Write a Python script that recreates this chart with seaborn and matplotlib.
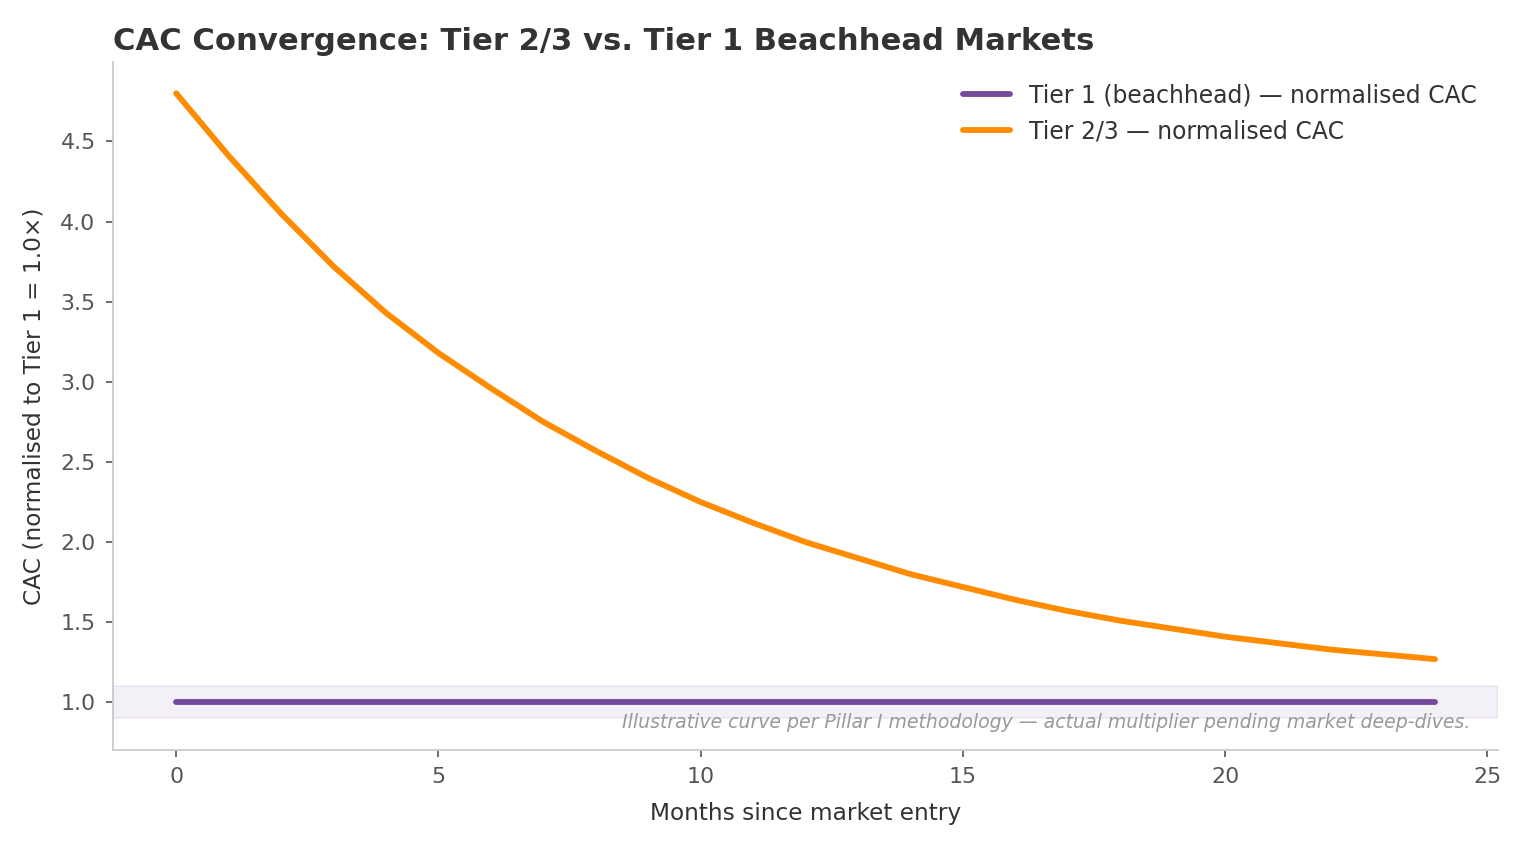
import matplotlib
matplotlib.use("Agg")
import matplotlib.pyplot as plt
import seaborn as sns
import pandas as pd

months = list(range(25))
tier1_cac = [1.0] * 25
tier23_cac = [4.80, 4.41, 4.05, 3.72, 3.43, 3.18, 2.96, 2.75, 2.57, 2.40,
              2.25, 2.12, 2.00, 1.90, 1.80, 1.72, 1.64, 1.57, 1.51, 1.46,
              1.41, 1.37, 1.33, 1.30, 1.27]
series_names = ["Tier 1 (beachhead) — normalised CAC", "Tier 2/3 — normalised CAC"]
colors = ["#764A9A", "#FF8C00"]

df = pd.DataFrame({
    "month": months * 2,
    "cac": tier1_cac + tier23_cac,
    "series": [series_names[0]] * 25 + [series_names[1]] * 25,
})

sns.set_theme(style="white")
plt.rcParams['font.family'] = ['DejaVu Sans']

fig, ax = plt.subplots(figsize=(10.2, 5.667), dpi=150)
ax.axhspan(0.9, 1.1, color="#764A9A", alpha=0.08, zorder=0)
sns.lineplot(data=df, x="month", y="cac", hue="series", palette=colors,
             linewidth=2.8, ax=ax)

ax.set_title("CAC Convergence: Tier 2/3 vs. Tier 1 Beachhead Markets",
             loc="left", fontsize=14.7, fontweight="bold", color="#333333")
ax.set_xlabel("Months since market entry", fontsize=11.2, color="#333333", labelpad=7)
ax.set_ylabel("CAC (normalised to Tier 1 = 1.0×)", fontsize=11.2, color="#333333", labelpad=7)
ax.tick_params(axis="both", labelsize=10.6, colors="#555555", length=3.5, width=0.8,
               pad=5, left=True, bottom=True)
for s in ["top", "right"]:
    ax.spines[s].set_visible(False)
for s in ["left", "bottom"]:
    ax.spines[s].set_color("#cccccc")
    ax.spines[s].set_linewidth(0.9)

leg = ax.legend(loc="upper right", frameon=False, fontsize=11.3)
for t in leg.get_texts():
    t.set_color("#333333")
for l in leg.get_lines():
    l.set_linewidth(2.8)

ax.text(0.98, 0.04, "Illustrative curve per Pillar I methodology — actual multiplier pending market deep-dives.",
        transform=ax.transAxes, ha="right", va="center", fontsize=9.05,
        style="italic", color="#999999")

fig.subplots_adjust(left=0.074, right=0.979, top=0.927, bottom=0.118)
fig.savefig("out.png", dpi=150)
